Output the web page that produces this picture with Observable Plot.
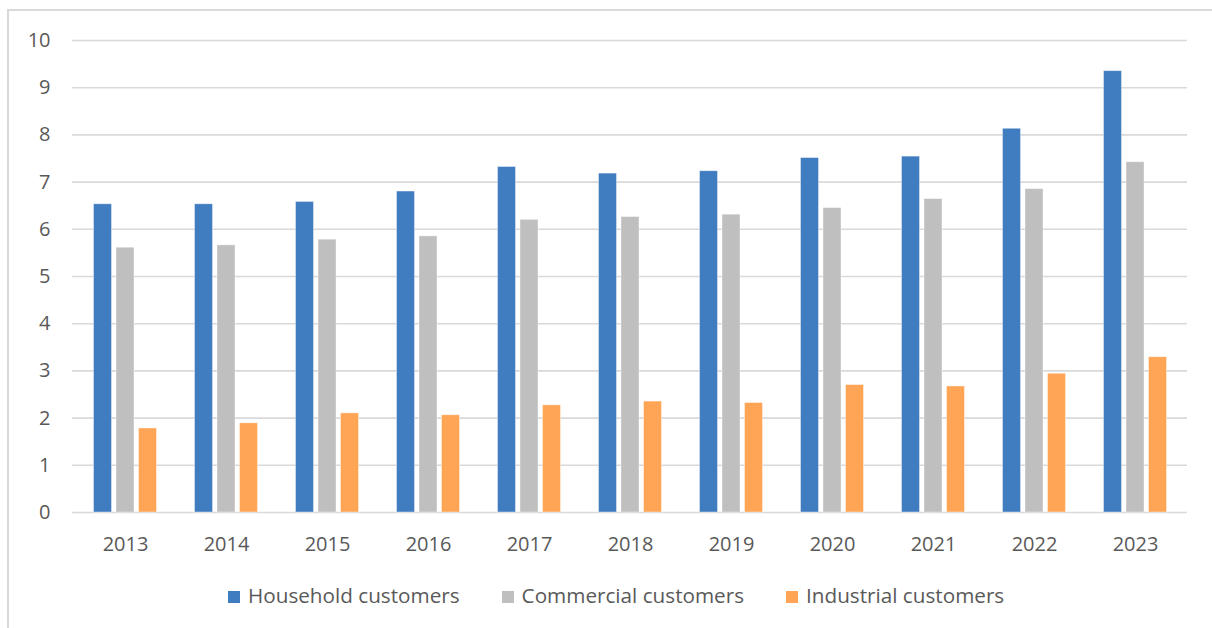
<!DOCTYPE html>
<html>
<head>
<meta charset="utf-8">
<script src="https://cdn.jsdelivr.net/npm/d3@7"></script>
<script src="https://cdn.jsdelivr.net/npm/@observablehq/plot@0.6"></script>
<style>
  html, body { margin: 0; padding: 0; background: #fff; overflow: hidden; }
  body { width: 1212px; height: 628px; position: relative; font-family: "Open Sans", sans-serif; }
  #frame { position: absolute; left: 7px; top: 9px; width: 1300px; height: 700px;
           border-left: 2px solid #d9d9d9; border-top: 2px solid #d9d9d9; }
  #chart { position: absolute; left: 0; top: 0; }
  #legend { position: absolute; left: 228px; top: 581px; display: flex; align-items: center;
            font-size: 20.7px; color: #595959; white-space: nowrap; }
  .item { display: flex; align-items: center; margin-right: 42px; }
  .sw { width: 12px; height: 12px; margin-right: 8px; margin-top: 3px; }
</style>
</head>
<body>
<div id="frame"></div>
<div id="chart"></div>
<div id="legend"></div>
<script>
const years = ["2013","2014","2015","2016","2017","2018","2019","2020","2021","2022","2023"];
const household = [6.53, 6.53, 6.58, 6.80, 7.32, 7.18, 7.23, 7.51, 7.54, 8.13, 9.35];
const commercial = [5.61, 5.66, 5.78, 5.85, 6.20, 6.26, 6.31, 6.45, 6.64, 6.85, 7.42];
const industrial = [1.78, 1.89, 2.10, 2.06, 2.27, 2.35, 2.32, 2.70, 2.67, 2.94, 3.29];
const seriesNames = ["Household customers", "Commercial customers", "Industrial customers"];
const seriesColors = ["#407CC0", "#BFBFBF", "#FFA555"];
const yTicks = [0,1,2,3,4,5,6,7,8,9,10];

const seriesValues = [household, commercial, industrial];
const offsets = [-22.5, 0, 22.5];
const tables = seriesValues.map(vals => years.map((y, i) => ({year: y, value: vals[i]})));

const chart = Plot.plot({
  width: 1212,
  height: 565,
  marginTop: 40,
  marginBottom: 53,
  marginLeft: 72,
  marginRight: 25,
  style: { fontFamily: "Open Sans, sans-serif", fontSize: "20px", color: "#595959", background: "transparent" },
  x: { domain: years, paddingInner: 0.8224, paddingOuter: 0.4112, label: null },
  y: { domain: [0, 10], ticks: yTicks, label: null },
  marks: [
    Plot.ruleY(yTicks, { stroke: "#d9d9d9", strokeWidth: 1.6 }),
    ...tables.map((t, k) => Plot.barY(t, {
      x: "year", y: "value", fill: seriesColors[k], dx: offsets[k],
      stroke: "#ffffff", strokeWidth: 0.8, strokeOpacity: 0.5
    })),
    Plot.axisX({ tickSize: 0, tickPadding: 24, fontSize: 20, fill: "#595959" }),
    Plot.axisY({ ticks: yTicks, tickSize: 0, tickPadding: 22, fontSize: 20, fill: "#595959" })
  ]
});
document.getElementById("chart").appendChild(chart);

const legend = document.getElementById("legend");
seriesNames.forEach((name, k) => {
  const item = document.createElement("div");
  item.className = "item";
  const sw = document.createElement("span");
  sw.className = "sw";
  sw.style.background = seriesColors[k];
  const tx = document.createElement("span");
  tx.textContent = name;
  item.appendChild(sw);
  item.appendChild(tx);
  legend.appendChild(item);
});
</script>
</body>
</html>
